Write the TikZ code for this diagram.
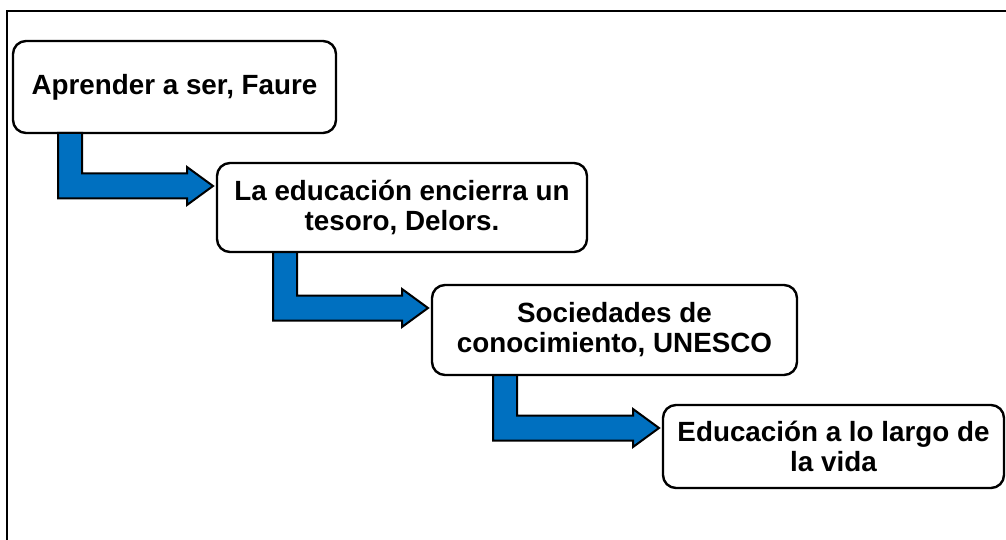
\documentclass[tikz,border=0pt]{standalone}
\usepackage{fontspec}
\setmainfont{Liberation Sans}
\usetikzlibrary{calc}
\definecolor{arrowblue}{HTML}{0070C0}
\tikzset{
  stagebox/.style={draw=black, line width=2.4pt, rounded corners=13pt, fill=white,
    inner sep=0pt, outer sep=0pt, align=center,
    font=\fontsize{27.8}{30}\selectfont\bfseries},
  bentconn/.style={draw=black, line width=2pt, fill=arrowblue, line join=miter},
  frameline/.style={draw=black, line width=2pt}
}
\newcommand\bentconnector[3]{%
  \draw[bentconn] let \p1=($(#1.south west)+(#3,0)$), \p2=($(#2.north west)+(-4,23)$) in
    (\x1,\y1) -- (\x1,\y2-12.5pt) -- (\x2-26pt,\y2-12.5pt) -- (\x2-26pt,\y2-19pt)
    -- (\x2,\y2) -- (\x2-26pt,\y2+19pt) -- (\x2-26pt,\y2+12.5pt)
    -- (\x1+24pt,\y2+12.5pt) -- (\x1+24pt,\y1) -- cycle;}
\begin{document}
\begin{tikzpicture}[x=1pt,y=-1pt]
\useasboundingbox (0,0) rectangle (1006,540);
\coordinate (frameTR) at (1006,11);
\coordinate (frameTL) at (7,11);
\coordinate (frameBL) at (7,540);
\draw[frameline] (frameTR) -- (frameTL) -- (frameBL);
\node[stagebox, minimum width=323pt, minimum height=92pt] (b1) at (174.5,87) {Aprender a ser, Faure};
\node[stagebox, minimum width=370pt, minimum height=89pt] (b2) at (402,207.5) {La educación encierra un\\tesoro, Delors.};
\node[stagebox, minimum width=365pt, minimum height=90pt] (b3) at (614.5,330) {Sociedades de\\conocimiento, UNESCO};
\node[stagebox, minimum width=341pt, minimum height=83pt] (b4) at (833.5,446.5) {Educación a lo largo de\\la vida};
\bentconnector{b1}{b2}{45}
\bentconnector{b2}{b3}{56}
\bentconnector{b3}{b4}{61}
\end{tikzpicture}
\end{document}
